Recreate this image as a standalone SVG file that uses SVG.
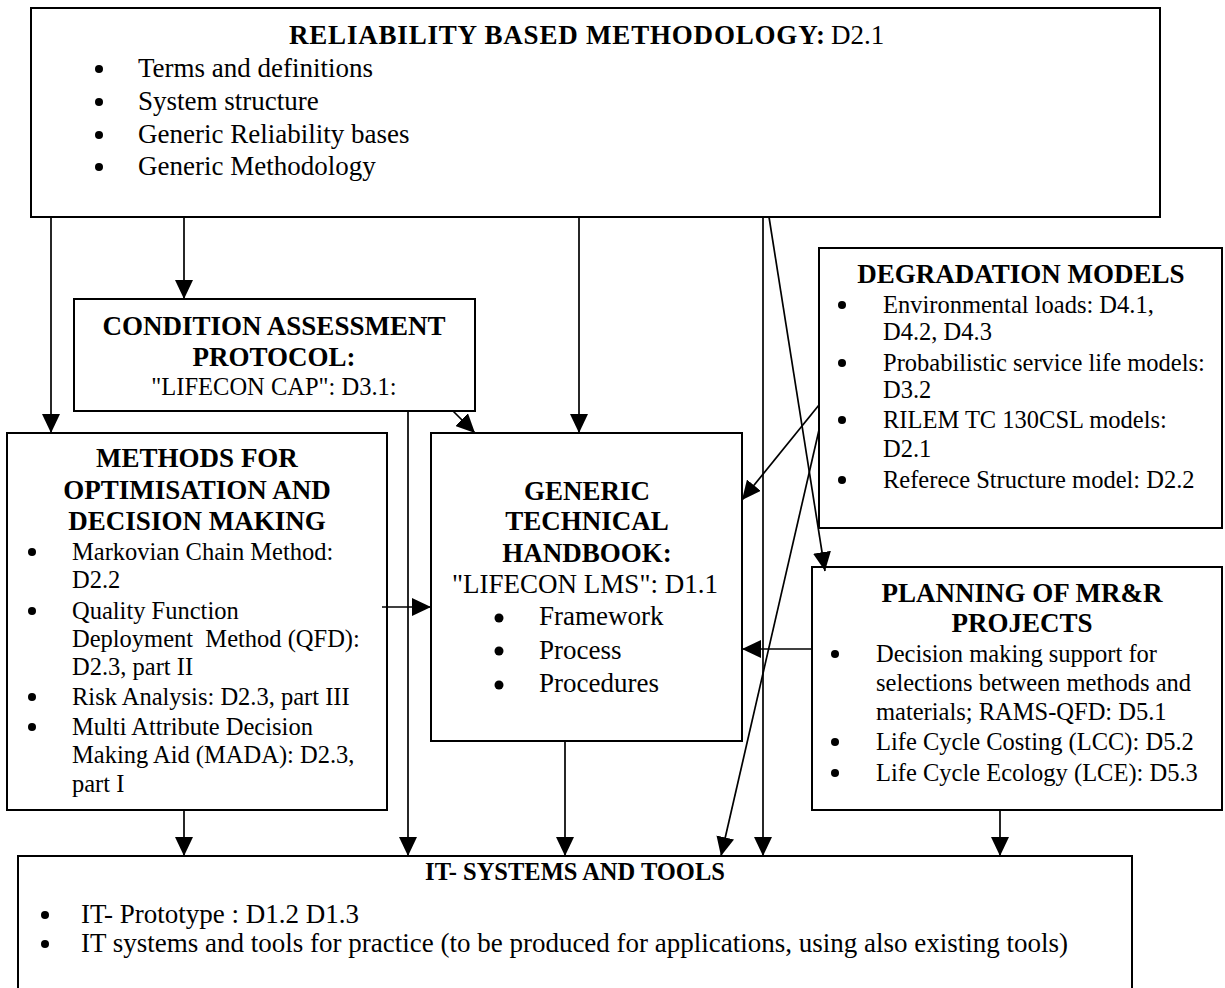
<svg xmlns="http://www.w3.org/2000/svg" width="1225" height="988" viewBox="0 0 1225 988">
  <style>
    .box { fill: #fff; stroke: #000; stroke-width: 2; }
    .ln { fill: none; stroke: #000; stroke-width: 1.7; }
    .hd { font-family: "Liberation Serif", "Times New Roman", serif; font-weight: bold; font-size: 27px; fill: #000; }
    .tx { font-family: "Liberation Serif", "Times New Roman", serif; font-size: 24.5px; fill: #000; }
    .tl { font-family: "Liberation Serif", "Times New Roman", serif; font-size: 27px; fill: #000; }
    .c { text-anchor: middle; }
    .dot { fill: #000; }
  </style>
  <defs>
    <marker id="ah" markerUnits="userSpaceOnUse" markerWidth="19" markerHeight="18" refX="19" refY="9" orient="auto">
      <path d="M0,0 L19,9 L0,18 z" fill="#000"/>
    </marker>
  </defs>

  <rect width="1225" height="988" fill="#fff"/>

  <!-- Reliability based methodology -->
  <g id="reliability">
    <rect class="box" x="31" y="8" width="1129" height="209"/>
    <text class="hd" x="289" y="44" textLength="536" lengthAdjust="spacing">RELIABILITY BASED METHODOLOGY:</text>
    <text class="tl" x="831" y="44">D2.1</text>
    <circle class="dot" cx="99" cy="69" r="4"/>
    <text class="tl" x="138" y="77">Terms and definitions</text>
    <circle class="dot" cx="99" cy="102" r="4"/>
    <text class="tl" x="138" y="110">System structure</text>
    <circle class="dot" cx="99" cy="135" r="4"/>
    <text class="tl" x="138" y="143">Generic Reliability bases</text>
    <circle class="dot" cx="99" cy="167" r="4"/>
    <text class="tl" x="138" y="175">Generic Methodology</text>
  </g>

  <!-- Condition assessment protocol -->
  <g id="cap">
    <rect class="box" x="74" y="299" width="401" height="112"/>
    <text class="hd c" x="274" y="335">CONDITION ASSESSMENT</text>
    <text class="hd c" x="274" y="366">PROTOCOL:</text>
    <text class="tx c" x="274" y="395">"LIFECON CAP": D3.1:</text>
  </g>

  <!-- Degradation models -->
  <g id="degradation">
    <rect class="box" x="819" y="248" width="403" height="280"/>
    <text class="hd c" x="1021" y="283">DEGRADATION MODELS</text>
    <circle class="dot" cx="842" cy="305" r="4"/>
    <text class="tx" x="883" y="313">Environmental loads: D4.1,</text>
    <text class="tx" x="883" y="340">D4.2, D4.3</text>
    <circle class="dot" cx="842" cy="363" r="4"/>
    <text class="tx" x="883" y="371">Probabilistic service life models:</text>
    <text class="tx" x="883" y="398">D3.2</text>
    <circle class="dot" cx="842" cy="420" r="4"/>
    <text class="tx" x="883" y="428">RILEM TC 130CSL models:</text>
    <text class="tx" x="883" y="457">D2.1</text>
    <circle class="dot" cx="842" cy="480" r="4"/>
    <text class="tx" x="883" y="488">Referece Structure model: D2.2</text>
  </g>

  <!-- Methods for optimisation and decision making -->
  <g id="methods">
    <rect class="box" x="7" y="433" width="380" height="377"/>
    <text class="hd c" x="197" y="467">METHODS FOR</text>
    <text class="hd c" x="197" y="499">OPTIMISATION AND</text>
    <text class="hd c" x="197" y="530">DECISION MAKING</text>
    <circle class="dot" cx="32" cy="552" r="4"/>
    <text class="tx" x="72" y="560">Markovian Chain Method:</text>
    <text class="tx" x="72" y="588">D2.2</text>
    <circle class="dot" cx="32" cy="611" r="4"/>
    <text class="tx" x="72" y="619">Quality Function</text>
    <text class="tx" x="72" y="647" xml:space="preserve">Deployment  Method (QFD):</text>
    <text class="tx" x="72" y="675">D2.3, part II</text>
    <circle class="dot" cx="32" cy="697" r="4"/>
    <text class="tx" x="72" y="705">Risk Analysis: D2.3, part III</text>
    <circle class="dot" cx="32" cy="727" r="4"/>
    <text class="tx" x="72" y="735">Multi Attribute Decision</text>
    <text class="tx" x="72" y="763">Making Aid (MADA): D2.3,</text>
    <text class="tx" x="72" y="792">part I</text>
  </g>

  <!-- Generic technical handbook -->
  <g id="handbook">
    <rect class="box" x="431" y="433" width="311" height="308"/>
    <text class="hd c" x="587" y="500">GENERIC</text>
    <text class="hd c" x="587" y="530">TECHNICAL</text>
    <text class="hd c" x="587" y="562">HANDBOOK:</text>
    <text class="tl c" x="585" y="593">"LIFECON LMS": D1.1</text>
    <circle class="dot" cx="499" cy="618" r="4.5"/>
    <text class="tl" x="539" y="625">Framework</text>
    <circle class="dot" cx="499" cy="651" r="4.5"/>
    <text class="tl" x="539" y="659">Process</text>
    <circle class="dot" cx="499" cy="685" r="4.5"/>
    <text class="tl" x="539" y="692">Procedures</text>
  </g>

  <!-- Planning of MR&R projects -->
  <g id="planning">
    <rect class="box" x="812" y="567" width="410" height="243"/>
    <text class="hd c" x="1022" y="602">PLANNING OF MR&amp;R</text>
    <text class="hd c" x="1022" y="632">PROJECTS</text>
    <circle class="dot" cx="835" cy="654" r="4"/>
    <text class="tx" x="876" y="662">Decision making support for</text>
    <text class="tx" x="876" y="691">selections between methods and</text>
    <text class="tx" x="876" y="720">materials; RAMS-QFD: D5.1</text>
    <circle class="dot" cx="835" cy="742" r="4"/>
    <text class="tx" x="876" y="750">Life Cycle Costing (LCC): D5.2</text>
    <circle class="dot" cx="835" cy="773" r="4"/>
    <text class="tx" x="876" y="781">Life Cycle Ecology (LCE): D5.3</text>
  </g>

  <!-- IT systems and tools -->
  <g id="it-systems">
    <rect class="box" x="18" y="856" width="1114" height="140"/>
    <text class="hd c" x="575" y="880" style="font-size:24.5px">IT- SYSTEMS AND TOOLS</text>
    <circle class="dot" cx="45" cy="915" r="4"/>
    <text class="tl" x="81" y="923">IT- Prototype : D1.2 D1.3</text>
    <circle class="dot" cx="45" cy="944" r="4"/>
    <text class="tl" x="81" y="952">IT systems and tools for practice (to be produced for applications, using also existing tools)</text>
  </g>

  <!-- Connectors -->
  <g id="connectors">
    <line class="ln" x1="51" y1="217" x2="51" y2="433" marker-end="url(#ah)"/>
    <line class="ln" x1="184" y1="217" x2="184" y2="299" marker-end="url(#ah)"/>
    <line class="ln" x1="579" y1="217" x2="579" y2="433" marker-end="url(#ah)"/>
    <line class="ln" x1="763" y1="217" x2="763" y2="856" marker-end="url(#ah)"/>
    <line class="ln" x1="769" y1="217" x2="825" y2="571" marker-end="url(#ah)"/>
    <line class="ln" x1="453" y1="411" x2="475" y2="433" marker-end="url(#ah)"/>
    <line class="ln" x1="408" y1="411" x2="408" y2="856" marker-end="url(#ah)"/>
    <line class="ln" x1="382" y1="607" x2="431" y2="607" marker-end="url(#ah)"/>
    <line class="ln" x1="184" y1="810" x2="184" y2="856" marker-end="url(#ah)"/>
    <line class="ln" x1="565" y1="741" x2="565" y2="856" marker-end="url(#ah)"/>
    <line class="ln" x1="819" y1="405" x2="742" y2="500" marker-end="url(#ah)"/>
    <line class="ln" x1="819" y1="430" x2="721" y2="856" marker-end="url(#ah)"/>
    <line class="ln" x1="812" y1="649" x2="742" y2="649" marker-end="url(#ah)"/>
    <line class="ln" x1="1000" y1="810" x2="1000" y2="856" marker-end="url(#ah)"/>
  </g>
</svg>
